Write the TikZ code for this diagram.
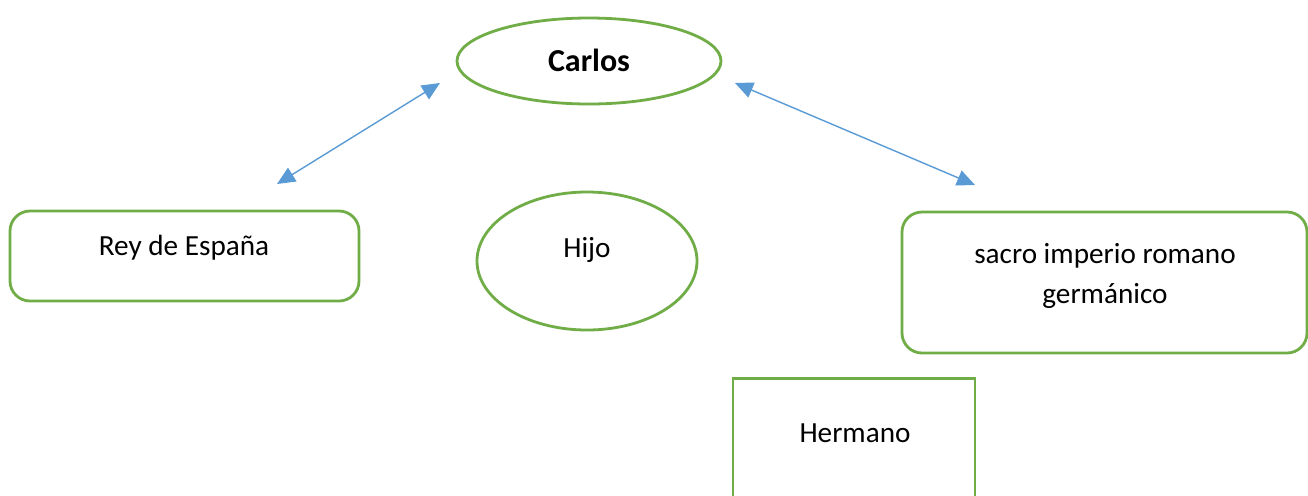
\documentclass[tikz,border=0pt]{standalone}
\usepackage{fontspec}
\setmainfont{Carlito}
\usetikzlibrary{shapes.geometric,arrows.meta}
\definecolor{boxgreen}{HTML}{70AD47}
\definecolor{arrowblue}{HTML}{5B9BD5}
\tikzset{
  shapeline/.style={draw=boxgreen, line width=1.4pt, inner sep=0pt},
  oval/.style={shapeline, ellipse},
  roundbox/.style={shapeline, rectangle, rounded corners=10pt},
  plainbox/.style={shapeline, rectangle},
  lbl/.style={font=\fontsize{14.6}{20}\selectfont, inner sep=0pt, align=center, text=black},
  link/.style={draw=arrowblue, line width=0.7pt, {Triangle[length=9pt,width=8pt]}-{Triangle[length=9pt,width=8pt]}}
}
\begin{document}
\begin{tikzpicture}[x=0.5pt,y=-0.5pt]
\useasboundingbox (0,0) rectangle (1308,495);
\clip (0,0) rectangle (1308,495);
\fill[white] (0,0) rectangle (1308,495);
% shapes
\node[oval, minimum width=132pt, minimum height=43pt] (carlos) at (589,61) {};
\node[roundbox, minimum width=174.5pt, minimum height=45pt] (rey) at (184.5,256) {};
\node[oval, minimum width=110pt, minimum height=69pt] (hijo) at (587,261) {};
\node[roundbox, minimum width=202.5pt, minimum height=70.5pt] (sacro) at (1104.5,282.5) {};
\node[plainbox, anchor=north, minimum width=121pt, minimum height=75pt] (hermano) at (854,377) {};
% labels
\node[lbl, font=\fontsize{16}{20}\selectfont\bfseries] (tcarlos) at (589,60) {Carlos};
\node[lbl] (trey) at (184,248) {Rey de España};
\node[lbl] (thijo) at (587,250) {Hijo};
\node[lbl] (tsacro) at (1105,276) {sacro imperio romano\\germánico};
\node[lbl] (thermano) at (855,433) {Hermano};
% connectors
\coordinate (a1) at (277,184);
\coordinate (a2) at (440,83);
\coordinate (b1) at (735,83);
\coordinate (b2) at (975,185);
\draw[link] (a1) -- (a2);
\draw[link] (b1) -- (b2);
\end{tikzpicture}
\end{document}
